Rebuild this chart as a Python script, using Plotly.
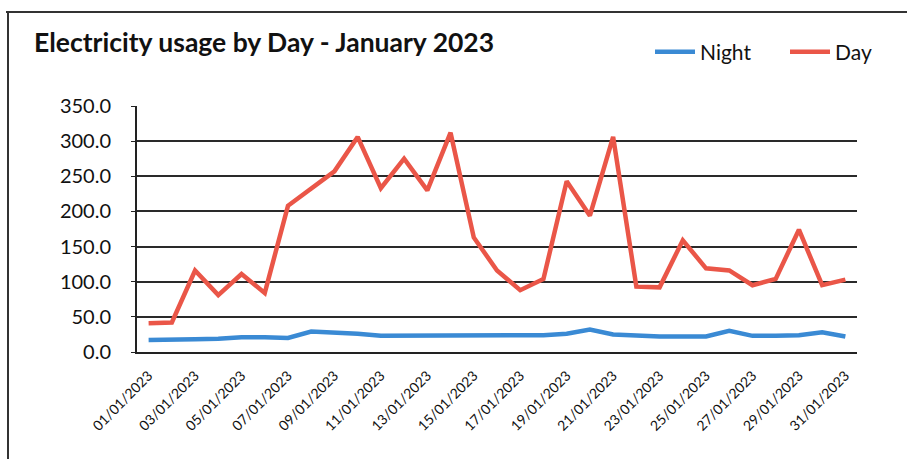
import plotly.graph_objects as go

dates = [f"{d:02d}/01/2023" for d in range(1, 32)]
night = [17, 17, 18, 19, 21, 21, 20, 29, 28, 26, 23, 23, 23, 24, 23, 23, 24, 24, 26, 32, 25,
         23, 22, 22, 22, 30, 23, 23, 24, 28, 22]
day = [41, 42, 116, 81, 111, 84, 208, 233, 257, 306, 233, 275, 230, 312, 163, 116, 88, 104, 243, 194, 306,
       93, 92, 159, 119, 116, 95, 104, 174, 95, 103]
tick_labels = dates[::2]

W, H = 907, 459
ML, MR, MT, MB = 137, 50, 106, 107
pw, ph = W - ML - MR, H - MT - MB

FONT = "Lato, Open Sans, sans-serif"

fig = go.Figure()
fig.add_trace(go.Scatter(x=dates, y=night, mode="lines", name="Night",
                         line=dict(color="#3a8ad4", width=4.5)))
fig.add_trace(go.Scatter(x=dates, y=day, mode="lines", name="Day",
                         line=dict(color="#ea5648", width=4.5)))

def px2x(p):
    return (p - ML) / pw

def px2y(p):
    return (H - MB - p) / ph

fig.update_layout(
    width=W, height=H,
    margin=dict(l=ML, r=MR, t=MT, b=MB, autoexpand=False),
    paper_bgcolor="white", plot_bgcolor="white",
    font=dict(family=FONT, color="#111"),
    title=dict(text="<b>Electricity usage by Day - January 2023</b>", x=34 / W, xanchor="left",
               y=1 - 43 / H, yanchor="middle", xref="container", yref="container",
               font=dict(size=26.5, family=FONT, color="#111")),
    legend=dict(orientation="h", x=px2x(650), xanchor="left", y=px2y(52), yanchor="middle",
                font=dict(size=21, family=FONT), itemwidth=40, bgcolor="rgba(0,0,0,0)",
                entrywidth=80, entrywidthmode="pixels", tracegroupgap=0),
    showlegend=True,
    xaxis=dict(type="category", range=[-0.5, 30.5], tickmode="array", tickvals=tick_labels,
               ticktext=tick_labels, tickangle=-45, tickfont=dict(size=14, family=FONT),
               showgrid=False, showline=True, linecolor="#222", linewidth=2, ticks="",
               ticklabelstandoff=8, zeroline=False, automargin=False),
    yaxis=dict(range=[0, 350], dtick=50, tickformat=".1f", tickfont=dict(size=20, family=FONT),
               showgrid=True, gridcolor="#2a2a2a", gridwidth=2, showline=True, linecolor="#222",
               linewidth=2, ticks="outside", ticklen=4, tickcolor="#222", ticklabelstandoff=16,
               zeroline=False, automargin=False),
    shapes=[
        dict(type="line", xref="paper", yref="paper", x0=px2x(6), x1=px2x(907), y0=px2y(12), y1=px2y(12),
             line=dict(color="#333", width=2)),
        dict(type="line", xref="paper", yref="paper", x0=px2x(8), x1=px2x(8), y0=px2y(12), y1=px2y(459),
             line=dict(color="#333", width=2)),
    ],
)

fig.write_html("out.html")
